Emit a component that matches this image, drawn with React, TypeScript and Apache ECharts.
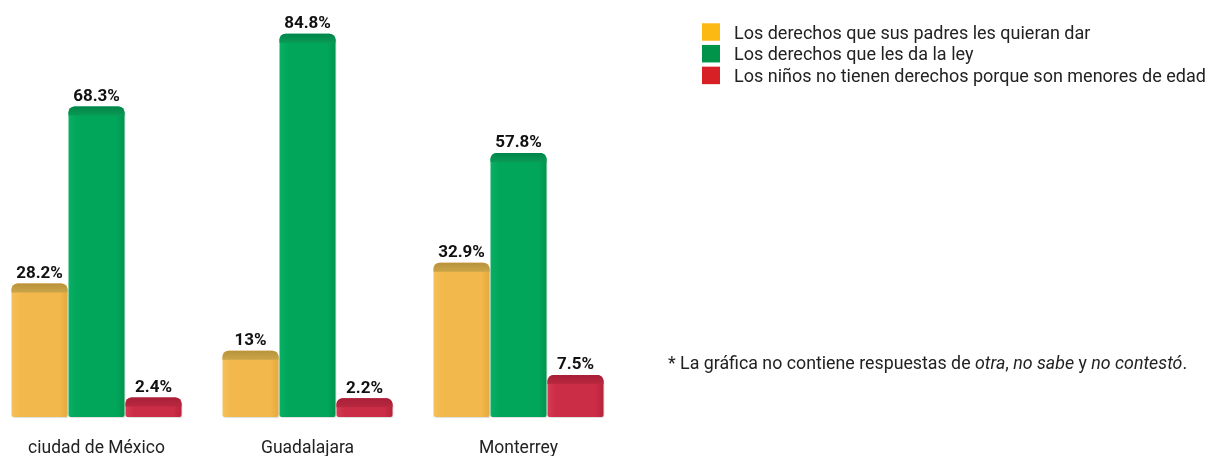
import React, { useEffect, useRef } from "react";
import * as echarts from "echarts";

const cities = ["ciudad de México", "Guadalajara", "Monterrey"];
const seriesNames = [
  "Los derechos que sus padres les quieran dar",
  "Los derechos que les da la ley",
  "Los niños no tienen derechos porque son menores de edad",
];
const padres = [28.2, 13, 32.9];
const ley = [68.3, 84.8, 57.8];
const menores = [2.4, 2.2, 7.5];
const legendColors = ["#FDB913", "#00934A", "#D71F26"];

const FONT = "Roboto, 'Noto Sans', sans-serif";

export default function App() {
  const ref = useRef<HTMLDivElement>(null);
  useEffect(() => {
    const chart = echarts.init(ref.current!, null, { renderer: "svg" });
    const data = [padres, ley, menores];
    const palette = [
      { l: "#F5C05A", m: "#F2B84B", d: "#E5A93E", cap: "#B9933C", capL: "#C9A448" },
      { l: "#08B064", m: "#01A65B", d: "#00964F", cap: "#00854A", capL: "#0A9A55" },
      { l: "#D63A52", m: "#CB2D46", d: "#B8223B", cap: "#A81F38", capL: "#B9283F" },
    ];
    const offsets = [-57, 0, 57];
    const W = 56;
    const CAP = 9;
    const makeRender = (k: number) => (params: any, api: any) => {
      const idx = api.value(0);
      const v = api.value(1);
      const top = api.coord([idx, v]);
      const base = api.coord([idx, 0]);
      const cx = top[0] + offsets[k];
      const x = cx - W / 2;
      const y = top[1] - CAP;
      const h = base[1] - y;
      const p = palette[k];
      return {
        type: "group",
        children: [
          {
            type: "rect",
            shape: { x: x + 1, y: y + 2, width: W, height: h - 1, r: [6, 6, 2, 2] },
            style: { fill: "rgba(0,0,0,0.12)" },
          },
          {
            type: "rect",
            shape: { x, y, width: W, height: h, r: [6, 6, 2, 2] },
            style: {
              fill: new echarts.graphic.LinearGradient(0, 0, 1, 0, [
                { offset: 0, color: p.l },
                { offset: 0.15, color: p.m },
                { offset: 0.85, color: p.m },
                { offset: 1, color: p.d },
              ]),
            },
          },
          {
            type: "rect",
            shape: { x, y, width: W, height: CAP, r: [6, 6, 0, 0] },
            style: {
              fill: new echarts.graphic.LinearGradient(0, 0, 0, 1, [
                { offset: 0, color: p.cap },
                { offset: 1, color: p.capL },
              ]),
            },
          },
          {
            type: "text",
            x: cx,
            y: y - 3,
            style: {
              text: v + "%",
              fontFamily: FONT,
              fontWeight: "bold",
              fontSize: 17,
              fill: "#111",
              align: "center",
              verticalAlign: "bottom",
            },
          },
        ],
      };
    };
    chart.setOption({
      animation: false,
      grid: { left: -9, top: 0, width: 633, bottom: 39, containLabel: false, outerBoundsMode: "none" },
      legend: {
        orient: "vertical",
        left: 697,
        top: 18,
        itemWidth: 18,
        itemHeight: 17.5,
        itemGap: 3.7,
        icon: "rect",
        textStyle: { fontFamily: FONT, fontSize: 18, lineHeight: 17.5, color: "#222", padding: [0, 0, 0, 9] },
        data: seriesNames.map((n, i) => ({ name: n, itemStyle: { color: legendColors[i] } })),
      },
      xAxis: {
        type: "category",
        data: cities,
        axisLine: { show: false },
        axisTick: { show: false },
        axisLabel: { fontFamily: FONT, fontSize: 17.5, color: "#222", margin: 21 },
      },
      yAxis: { type: "value", min: 0, max: 94.5, show: false, splitLine: { show: false } },
      series: seriesNames.map((n, k) => ({
        name: n,
        type: "custom",
        renderItem: makeRender(k),
        data: data[k].map((v, i) => [i, v]),
        encode: { x: 0, y: 1 },
        itemStyle: { color: legendColors[k] },
      })),
      graphic: [
        {
          type: "text",
          left: 668,
          top: 353,
          style: {
            text: "{n|* La gráfica no contiene respuestas de }{i|otra}{n|, }{i|no sabe}{n| y }{i|no contestó}{n|.}",
            rich: {
              n: { fontFamily: FONT, fontSize: 17.8, fill: "#222" },
              i: { fontFamily: FONT, fontSize: 17.8, fontStyle: "italic", fill: "#222" },
            },
          },
        },
      ],
    });
    return () => chart.dispose();
  }, []);
  return (
    <div
      ref={ref}
      style={{ position: "fixed", left: 0, top: 0, width: 1212, height: 456 }}
    />
  );
}
